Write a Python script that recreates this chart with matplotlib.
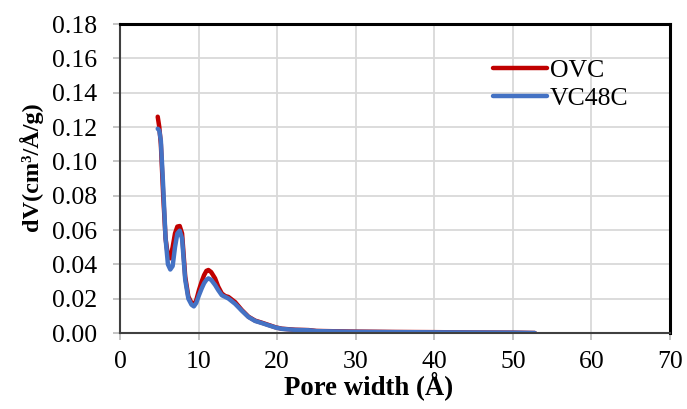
import matplotlib
matplotlib.use("Agg")
import matplotlib.pyplot as plt

# pore width (A) and dV values
pore_w = [4.8, 5.0, 5.2, 5.5, 5.8, 6.1, 6.4, 6.7, 7.0, 7.3, 7.6, 7.9, 8.3, 8.7, 9.1, 9.4,
          9.7, 10.05, 10.4, 10.7, 11.0, 11.25, 11.6, 12.1, 12.5, 12.96, 13.4, 13.8, 14.65,
          15.5, 16.35, 17.2, 18.05, 18.9, 19.8, 20.6, 22.3, 24.0, 25.0, 30.0, 35.0, 40.0,
          45.0, 50.0, 52.8]
ovc = [0.126, 0.120, 0.110, 0.080, 0.055, 0.045, 0.0435, 0.050, 0.058, 0.062, 0.0623, 0.058,
       0.0328, 0.0212, 0.0175, 0.0163, 0.019, 0.025, 0.030, 0.0337, 0.0362, 0.0367, 0.0355,
       0.0318, 0.027, 0.023, 0.0215, 0.021, 0.018, 0.0134, 0.0095, 0.0072, 0.006, 0.0047,
       0.0033, 0.0025, 0.0019, 0.0017, 0.0012, 0.0008, 0.0006, 0.0005, 0.0003, 0.0002, 0.0]
vc48c = [0.119, 0.118, 0.112, 0.085, 0.055, 0.040, 0.037, 0.039, 0.050, 0.058, 0.0596, 0.055,
         0.031, 0.020, 0.0165, 0.0155, 0.0175, 0.022, 0.026, 0.029, 0.031, 0.0318, 0.031,
         0.028, 0.025, 0.022, 0.021, 0.0201, 0.017, 0.013, 0.0093, 0.007, 0.0058, 0.0045,
         0.0032, 0.0024, 0.0018, 0.0016, 0.0011, 0.0007, 0.0005, 0.0004, 0.0003, 0.0002, 0.0]
x_ticks = [0, 10, 20, 30, 40, 50, 60, 70]
y_ticks = [0.00, 0.02, 0.04, 0.06, 0.08, 0.10, 0.12, 0.14, 0.16, 0.18]

plt.rcParams['font.family'] = ['Liberation Serif', 'DejaVu Serif']

W, H = 687, 409
fig = plt.figure(figsize=(W / 100, H / 100), dpi=100)
ax = fig.add_axes([120 / W, 1 - 333 / H, 550 / W, 309 / H])

ax.plot(pore_w, ovc, color='#C00000', lw=3.2, label='OVC', solid_capstyle='round')
ax.plot(pore_w, vc48c, color='#4472C4', lw=3.2, label='VC48C', solid_capstyle='round')

ax.set_xlim(0, 70)
ax.set_ylim(0, 0.18)
ax.set_xticks(x_ticks)
ax.set_yticks(y_ticks)
ax.set_yticklabels(['%.2f' % v for v in y_ticks])
ax.grid(True, color='#d9d9d9', lw=1.3)
ax.set_axisbelow(True)

ax.tick_params(axis='both', labelsize=18.5, length=5, width=1.3, color='#bfbfbf',
               direction='out')
ax.tick_params(axis='y', pad=11.5)
ax.tick_params(axis='x', pad=8)

for s in ['top', 'right']:
    ax.spines[s].set_color('black')
    ax.spines[s].set_linewidth(2.2)
for s in ['left', 'bottom']:
    ax.spines[s].set_color('#404040')
    ax.spines[s].set_linewidth(1.5)

fig.text(369 / W, 1 - 386 / H, 'Pore width (Å)', fontsize=19.3, fontweight='bold',
         ha='center', va='center')
fig.text(31 / W, 1 - 167 / H, 'dV(cm³/Å/g)', fontsize=17.5, fontweight='bold',
         rotation=90, ha='center', va='center')

ax.legend(loc='upper left', bbox_to_anchor=(373 / 550, 1 - 35 / 309), frameon=False,
          fontsize=18.5, handlelength=2.1, handletextpad=0.12, labelspacing=0.2,
          borderaxespad=0, borderpad=0)

fig.savefig('out.png', dpi=100)
